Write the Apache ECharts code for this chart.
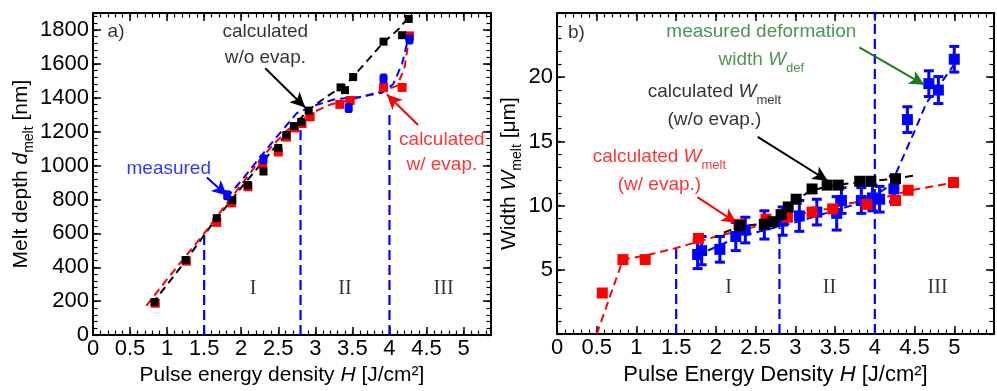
<!DOCTYPE html>
<html><head><meta charset="utf-8">
<script src="https://cdn.jsdelivr.net/npm/echarts@6/dist/echarts.min.js"></script>
<style>html,body{margin:0;padding:0;background:#fff}#c{width:997px;height:391px}</style>
</head><body><div id="c"></div><script>
// ---------- Panel a) melt depth ----------
const aCalcNoEvapH = [0.83,1.25,1.67,1.88,2.09,2.30,2.50,2.61,2.71,2.81,2.91,3.34,3.40,3.51,3.92,4.17,4.26];
const aCalcNoEvapD = [195,443,690,796,885,965,1104,1180,1233,1258,1324,1461,1445,1522,1731,1769,1865];
const aCalcEvapH = [0.84,1.26,1.67,1.87,2.09,2.29,2.50,2.61,2.72,2.82,2.93,3.33,3.47,3.92,4.17,4.27];
const aCalcEvapD = [188,436,665,780,875,1010,1080,1168,1222,1248,1288,1361,1384,1461,1461,1765];
const aMeasH = [1.81,2.30,3.45,3.92,4.27];
const aMeasD = [825,1037,1339,1513,1744];
const aNoEvapLineH = [0.8,1.2,1.6,2.0,2.4,2.7,2.9,3.07,3.2,3.43,3.65,3.9,4.12,4.27];
const aNoEvapLineD = [185,410,650,870,1080,1230,1325,1381,1420,1487,1593,1718,1804,1880];
const aEvapLineH = [0.72,1.0,1.5,1.9,2.3,2.6,2.9,3.2,3.5,3.9,4.1,4.2,4.27];
const aEvapLineD = [173,330,600,830,1060,1200,1300,1360,1390,1440,1470,1570,1765];
const aMeasLineH = [1.8,2.0,2.37,2.75,3.0,3.25,3.6,3.9,4.05,4.17,4.25];
const aMeasLineD = [810,910,1112,1310,1355,1390,1405,1430,1480,1600,1745];
const aRegionH = [1.5,2.8,4.0];
const aRegionTop = [592,1250,1330];
const aXTicks = [0,0.5,1,1.5,2,2.5,3,3.5,4,4.5,5];
const aYTicks = [0,200,400,600,800,1000,1200,1400,1600,1800];

// ---------- Panel b) melt width ----------
const bCalcNoEvapH = [2.30,2.61,2.72,2.82,2.91,3.01,3.21,3.40,3.54,3.81,3.95,4.26];
const bCalcNoEvapW = [8.45,8.55,8.75,9.3,9.9,10.5,11.3,11.6,11.6,11.9,11.9,12.1];
const bCalcEvapH = [0.57,0.83,1.11,1.78,2.29,2.63,2.90,3.21,3.47,3.90,4.26,4.42,4.99];
const bCalcEvapW = [3.2,5.8,5.8,7.45,8.55,8.95,9.1,9.5,9.75,10.1,10.4,11.2,11.8];
const bMeasH = [1.77,1.82,2.05,2.25,2.37,2.61,2.84,3.05,3.27,3.52,3.58,3.83,3.97,4.06,4.24,4.41,4.68,4.80,5.00];
const bMeasW = [6.2,6.5,6.6,7.6,8.1,8.5,8.8,9.2,9.5,9.4,10.4,10.4,10.6,10.5,11.3,16.7,19.5,19.0,21.4];
const bMeasErr = [1.1,1.1,1.0,1.1,1.0,1.1,1.1,1.2,1.0,1.3,1.0,1.0,1.0,1.0,1.0,1.0,1.0,1.05,1.0];
const bEvapLineH = [0.5,0.83,1.1,1.5,2.0,2.4,2.7,3.0,3.4,3.7,4.1,4.45,5.0];
const bEvapLineW = [0,5.8,6.1,6.7,7.6,8.2,8.75,9.3,9.75,10.2,10.6,11.2,11.8];
const bNoEvapLineH = [2.1,2.3,2.6,2.75,2.9,3.05,3.2,3.5,3.9,4.26,4.5];
const bNoEvapLineW = [7.9,8.4,8.6,8.9,9.7,10.6,11.2,11.6,11.9,12.1,12.35];
const bMeasLineH = [1.75,2.3,3.0,3.7,4.0,4.2,4.5,4.65,4.85,5.0];
const bMeasLineW = [6.1,7.6,8.7,10.0,10.8,11.6,15.8,18.0,19.7,21.0];
const bRegionH = [1.5,2.8,4.0];
const bRegionTop = [6.7,8.5,25];
const bXTicks = [0,0.5,1,1.5,2,2.5,3,3.5,4,4.5,5];
const bYTicks = [5,10,15,20];

const romanLabels = ['I','II','III'];
const aRomanH = [2.16,3.40,4.73];
const bRomanH = [2.16,3.43,4.79];

// ---------- styling ----------
const FONT = "'Liberation Sans', Arial, Helvetica, sans-serif";
const SERIF = "'Liberation Serif', 'Times New Roman', serif";
const BLUE = '#0000ff', RED = '#ff0000', BLACK = '#000000', GREEN = '#1f7a1f';

function zip(a,b){ return a.map((v,i)=>[v,b[i]]); }
function inList(list, v){ return list.some(t => Math.abs(t - v) < 1e-6); }

function axisSet(kind, gi, min, max, major, minor, ticks, nameCfg) {
  const pos1 = kind === 'x' ? 'bottom' : 'left';
  const pos2 = kind === 'x' ? 'top' : 'right';
  const base = { type:'value', gridIndex:gi, min, max, splitLine:{show:false}, minorSplitLine:{show:false} };
  const majorTick = {show:true, inside:true, length:8, lineStyle:{color:'#000', width:1.5}};
  const minorTick = {show:true, inside:true, length:4.5, lineStyle:{color:'#000', width:1.2}};
  const main = Object.assign({}, base, {
    position: pos1, interval: major,
    axisLine:{show:true, onZero:false, lineStyle:{color:'#000', width:2}},
    axisTick: majorTick,
    axisLabel:{show:true, color:'#000', fontSize:22, fontFamily:FONT, margin: kind==='x'?3:4,
      showMinLabel:true, showMaxLabel:true,
      formatter: v => inList(ticks, v) ? String(Math.round(v*10)/10) : ''},
  }, nameCfg || {});
  const mainMinor = Object.assign({}, base, { position: pos1, interval: minor,
    axisLine:{show:false, onZero:false}, axisTick:minorTick, axisLabel:{show:false} });
  const mirror = Object.assign({}, base, { position: pos2, interval: major,
    axisLine:{show:true, onZero:false, lineStyle:{color:'#000', width:2}}, axisTick:majorTick, axisLabel:{show:false} });
  const mirrorMinor = Object.assign({}, base, { position: pos2, interval: minor,
    axisLine:{show:false, onZero:false}, axisTick:minorTick, axisLabel:{show:false} });
  return [main, mainMinor, mirror, mirrorMinor];
}

const richBase = (size) => ({
  n:{fontSize:size, fontFamily:FONT, lineHeight:size+5},
  i:{fontSize:size, fontFamily:FONT, fontStyle:'italic', lineHeight:size+5},
  s:{fontSize:Math.round(size*0.68), fontFamily:FONT, verticalAlign:'bottom', lineHeight:size+9}
});

const xAxes = [
  ...axisSet('x',0,0,5.37,0.5,0.1,aXTicks,{
    name:'{n|Pulse energy density }{i|H}{n| [J/cm²]}', nameLocation:'middle', nameGap:22,
    nameTextStyle:{color:'#000', fontFamily:FONT, fontSize:21, padding:[0,20,0,0], rich:richBase(21)} }),
  ...axisSet('x',1,0,5.5,0.5,0.1,bXTicks,{
    name:'{n|Pulse Energy Density }{i|H}{n| [J/cm²]}', nameLocation:'middle', nameGap:22,
    nameTextStyle:{color:'#000', fontFamily:FONT, fontSize:22, rich:richBase(22)} })
];
const yAxes = [
  ...axisSet('y',0,0,1900,200,40,aYTicks,{
    name:'{n|Melt depth }{i|d}{s|melt}{n| [nm]}', nameLocation:'middle', nameGap:56, nameRotate:90,
    nameTextStyle:{color:'#000', fontFamily:FONT, fontSize:21, rich:richBase(21)} }),
  ...axisSet('y',1,0,25,5,1,bYTicks,{
    name:'{n|Width }{i|W}{s|melt}{n| [μm]}', nameLocation:'middle', nameGap:30, nameRotate:90,
    nameTextStyle:{color:'#000', fontFamily:FONT, fontSize:21, rich:richBase(21)} })
];

function dashed(xi, H, V, color, dash, width) {
  return {type:'line', xAxisIndex:xi, yAxisIndex:xi, data:zip(H,V), symbol:'none', silent:true,
    lineStyle:{color, width: width||2, type: dash||[8,5]}, z:2};
}
function markers(xi, H, V, color, symbol, size, z) {
  return {type:'scatter', xAxisIndex:xi, yAxisIndex:xi, data:zip(H,V), symbol, symbolSize:size,
    itemStyle:{color, opacity:1}, silent:true, z};
}
function regionLines(xi, H, tops) {
  return H.map((h,i) => ({type:'line', xAxisIndex:xi, yAxisIndex:xi, data:[[h,0],[h,tops[i]]], symbol:'none',
    silent:true, lineStyle:{color:BLUE, width:2.2, type:[10,5]}, z:1}));
}
function textAt(xi, pos, formatter, color, size, opts) {
  const o = opts || {};
  return {type:'scatter', xAxisIndex:xi, yAxisIndex:xi, symbolSize:1, silent:true, z:20,
    itemStyle:{color:'rgba(0,0,0,0)'}, data:[pos],
    label:Object.assign({show:true, position:o.position||'inside', distance:0, formatter, color,
      fontSize:size, fontFamily:o.family||FONT, align:o.align||'center', verticalAlign:'middle',
      lineHeight:o.lineHeight||size+6, rich:o.rich}, {}),
    markLine: o.arrow ? {silent:true, animation:false, symbol:['none','arrow'], symbolSize:[11,15],
      lineStyle:{color, width:2, type:'solid'}, label:{show:false},
      data:[[{coord:o.arrow[0]},{coord:o.arrow[1]}]]} : undefined };
}
function coloredRich(size, color) {
  const r = richBase(size);
  Object.keys(r).forEach(k => r[k].color = color);
  r.n.lineHeight = size + 7; r.i.lineHeight = size + 7; r.s.lineHeight = size + 11;
  return r;
}

const series = [
  // panel a
  ...regionLines(0, aRegionH, aRegionTop),
  dashed(0, aNoEvapLineH, aNoEvapLineD, BLACK),
  dashed(0, aEvapLineH, aEvapLineD, RED),
  dashed(0, aMeasLineH, aMeasLineD, BLUE),
  markers(0, aCalcEvapH, aCalcEvapD, RED, 'rect', 9, 4),
  markers(0, aCalcNoEvapH, aCalcNoEvapD, BLACK, 'rect', 8, 5),
  markers(0, aMeasH, aMeasD, BLUE, 'roundRect', [8,10], 6),
  ...romanLabels.map((t,i) => textAt(0, [aRomanH[i], 274], t, '#000', 20, {family:SERIF})),
  textAt(0, [0.19, 1787], 'a)', '#000', 19, {position:'right', align:'left'}),
  textAt(0, [2.325, 1712], 'calculated\nw/o evap.', BLACK, 19, {lineHeight:26,
    arrow:[[2.324,1574],[2.863,1343]]}),
  textAt(0, [1.022, 979], 'measured', BLUE, 19, {arrow:[[1.537,929],[1.807,823]]}),
  textAt(0, [4.707, 1080], 'calculated\nw/ evap.', RED, 19, {lineHeight:25,
    arrow:[[4.387,1239],[3.965,1419]]}),

  // panel b
  ...regionLines(4, bRegionH, bRegionTop),
  dashed(4, bEvapLineH, bEvapLineW, RED),
  dashed(4, bNoEvapLineH, bNoEvapLineW, BLACK),
  dashed(4, bMeasLineH, bMeasLineW, BLUE),
  {type:'custom', xAxisIndex:4, yAxisIndex:4, silent:true, z:3,
    data: bMeasH.map((h,i) => [h, bMeasW[i], bMeasErr[i]]),
    encode:{x:0, y:1},
    renderItem:(params, api) => {
      const x = api.value(0), y = api.value(1), e = api.value(2);
      const t = api.coord([x, y+e]), b = api.coord([x, y-e]);
      const hw = 5, st = {stroke:BLUE, lineWidth:3};
      return {type:'group', children:[
        {type:'line', shape:{x1:t[0], y1:t[1], x2:b[0], y2:b[1]}, style:st},
        {type:'line', shape:{x1:t[0]-hw, y1:t[1], x2:t[0]+hw, y2:t[1]}, style:st},
        {type:'line', shape:{x1:b[0]-hw, y1:b[1], x2:b[0]+hw, y2:b[1]}, style:st}
      ]};
    }},
  markers(4, bMeasH, bMeasW, BLUE, 'rect', 11, 4),
  markers(4, bCalcEvapH, bCalcEvapW, RED, 'rect', 11, 5),
  markers(4, bCalcNoEvapH, bCalcNoEvapW, BLACK, 'rect', 11, 6),
  ...romanLabels.map((t,i) => textAt(4, [bRomanH[i], 3.57], t, '#000', 20, {family:SERIF})),
  textAt(4, [0.132, 23.5], 'b)', '#000', 19, {position:'right', align:'left'}),
  textAt(4, [2.572, 22.36], '{n|measured deformation}\n{n|width }{i|W}{s|def}', GREEN, 19,
    {rich:coloredRich(19, GREEN), arrow:[[3.805,22.33],[4.623,19.41]]}),
  textAt(4, [1.981, 17.87], '{n|calculated }{i|W}{s|melt}\n{n|(w/o evap.)}', BLACK, 19,
    {rich:coloredRich(19, BLACK), arrow:[[2.526,15.36],[3.406,11.94]]}),
  textAt(4, [1.289, 12.78], '{n|calculated }{i|W}{s|melt}\n{n|(w/ evap.)}', RED, 19,
    {rich:coloredRich(19, RED), arrow:[[1.767,10.67],[2.262,8.65]]}),
];

const chart = echarts.init(document.getElementById('c'), null, {renderer:'canvas'});
chart.setOption({
  animation:false,
  backgroundColor:'#fff',
  grid:[
    {left:93, top:13, width:398, height:330, containLabel:false},
    {left:557, top:13, width:438, height:329, containLabel:false}
  ],
  xAxis:xAxes,
  yAxis:yAxes,
  series
});
</script></body></html>
